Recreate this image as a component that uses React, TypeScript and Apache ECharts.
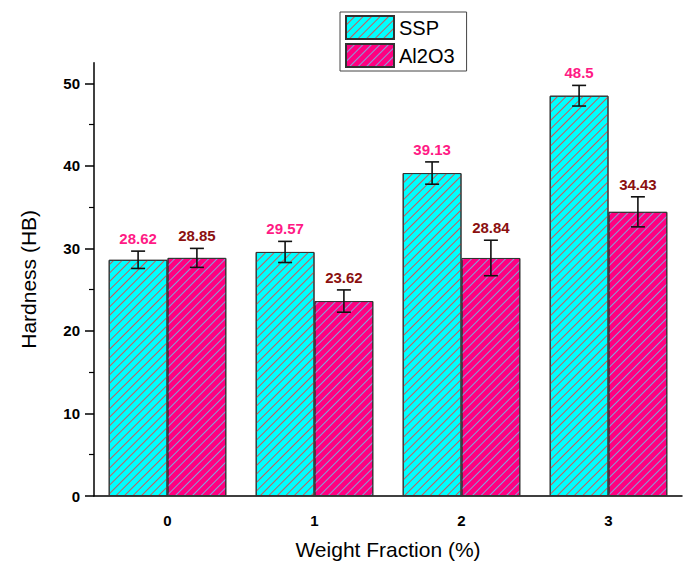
import React, { useEffect, useRef } from "react";
import * as echarts from "echarts";

const categories = ["0", "1", "2", "3"];
const sspValues = [28.62, 29.57, 39.13, 48.5];
const al2o3Values = [28.85, 23.62, 28.84, 34.43];
const sspErrors = [1.05, 1.28, 1.35, 1.25];
const al2o3Errors = [1.15, 1.35, 2.15, 1.82];
const yTicks = [0, 10, 20, 30, 40, 50];

const FONT = 'Arial, "Liberation Sans", sans-serif';

function errorSeries(values: number[], errors: number[], side: number, labelColor: string) {
  return {
    type: "custom",
    xAxisIndex: 0,
    yAxisIndex: 0,
    z: 10,
    silent: true,
    data: values.map((v, i) => [i, v, errors[i]]),
    renderItem: (params: any, api: any) => {
      const idx = api.value(0);
      const v = api.value(1);
      const e = api.value(2);
      const band = api.size([1, 0])[0];
      const c = api.coord([idx, v]);
      const x = c[0] + side * band * 0.2;
      const top = api.coord([idx, v + e])[1];
      const bot = api.coord([idx, v - e])[1];
      const hw = 7;
      const ls = { stroke: "#111", lineWidth: 1.6 };
      return {
        type: "group",
        children: [
          { type: "line", shape: { x1: x, y1: top, x2: x, y2: bot }, style: ls },
          { type: "line", shape: { x1: x - hw, y1: top, x2: x + hw, y2: top }, style: ls },
          { type: "line", shape: { x1: x - hw, y1: bot, x2: x + hw, y2: bot }, style: ls },
          {
            type: "text",
            style: {
              text: String(v),
              x: x,
              y: top - 5,
              align: "center",
              verticalAlign: "bottom",
              fill: labelColor,
              font: `bold 15px ${FONT}`,
            },
          },
        ],
      };
    },
  };
}

export default function App() {
  const ref = useRef<HTMLDivElement>(null);
  useEffect(() => {
    if (!ref.current) return;
    const chart = echarts.init(ref.current, null, { renderer: "svg" });
    chart.setOption({
      animation: false,
      backgroundColor: "#fff",
      textStyle: { fontFamily: FONT },
      grid: { left: 94, right: 5, top: 62.7, bottom: 68.3, containLabel: false },
      legend: {
        orient: "vertical",
        left: 340,
        top: 12,
        itemWidth: 48,
        itemHeight: 23,
        itemGap: 3,
        padding: [3, 12, 3, 5],
        borderColor: "#444",
        borderWidth: 1,
        backgroundColor: "#fff",
        icon: "rect",
        textStyle: { fontSize: 20, color: "#000", fontFamily: FONT },
        data: ["SSP", "Al2O3"],
      },
      xAxis: [
        {
          type: "category",
          data: categories,
          axisLine: { lineStyle: { color: "#000", width: 1.5 } },
          axisTick: { alignWithLabel: true, length: 7, lineStyle: { color: "#000", width: 1.5 } },
          axisLabel: { color: "#000", fontWeight: "bold", fontSize: 15, margin: 17, fontFamily: FONT },
          name: "Weight Fraction (%)",
          nameLocation: "middle",
          nameGap: 43,
          nameTextStyle: { fontSize: 21, color: "#000", fontFamily: FONT },
          splitLine: { show: false },
        },
        {
          type: "category",
          data: categories,
          position: "bottom",
          axisLine: { show: false },
          axisTick: { alignWithLabel: false, length: 4, lineStyle: { color: "#000", width: 1.5 } },
          axisLabel: { show: false },
          splitLine: { show: false },
        },
      ],
      yAxis: {
        type: "value",
        min: 0,
        max: 52.5,
        interval: 10,
        axisLine: { show: true, lineStyle: { color: "#000", width: 1.5 } },
        axisTick: { show: true, length: 9, customValues: yTicks, lineStyle: { color: "#000", width: 1.5 } },
        minorTick: { show: true, splitNumber: 2, length: 5, lineStyle: { color: "#000", width: 1.2 } },
        axisLabel: { color: "#000", fontWeight: "bold", fontSize: 15, margin: 14, customValues: yTicks, fontFamily: FONT },
        splitLine: { show: false },
        name: "Hardness (HB)",
        nameLocation: "middle",
        nameGap: 55,
        nameTextStyle: { fontSize: 21, color: "#000", fontFamily: FONT },
      },
      series: [
        {
          name: "SSP",
          type: "bar",
          data: sspValues,
          barWidth: "40%",
          barGap: "0%",
          itemStyle: {
            color: "#00FFFF",
            borderColor: "#333",
            borderWidth: 1,
            decal: {
              symbol: "rect",
              symbolSize: 1,
              dashArrayX: [1, 0],
              dashArrayY: [1, 5],
              rotation: -Math.PI / 4,
              color: "rgba(225,70,70,0.9)",
            },
          },
        },
        {
          name: "Al2O3",
          type: "bar",
          data: al2o3Values,
          barWidth: "40%",
          barGap: "0%",
          itemStyle: {
            color: "#FF0080",
            borderColor: "#333",
            borderWidth: 1,
            decal: {
              symbol: "rect",
              symbolSize: 1,
              dashArrayX: [1, 0],
              dashArrayY: [1, 5],
              rotation: -Math.PI / 4,
              color: "rgba(120,180,230,0.9)",
            },
          },
        },
        errorSeries(sspValues, sspErrors, -1, "#FF1A85"),
        errorSeries(al2o3Values, al2o3Errors, 1, "#8B1010"),
      ],
    });
    return () => chart.dispose();
  }, []);
  return (
    <div
      ref={ref}
      style={{ width: 687, height: 565, position: "absolute", left: 0, top: 0 }}
    />
  );
}
